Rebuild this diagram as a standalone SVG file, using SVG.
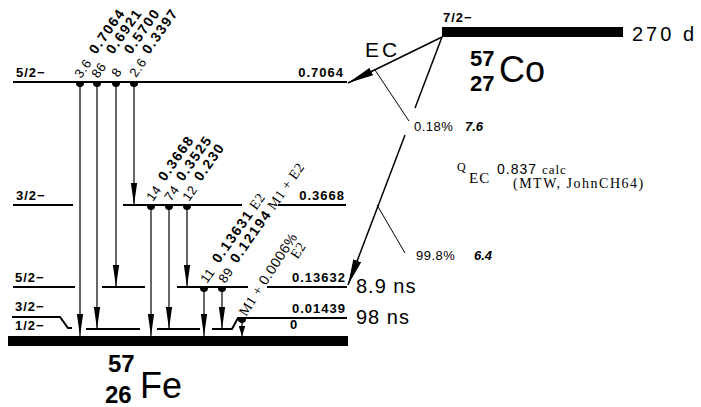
<svg xmlns="http://www.w3.org/2000/svg" width="701" height="407" viewBox="0 0 701 407">
<style>
.lv{stroke:#000;stroke-width:2;fill:none}
.g{stroke:#000;stroke-width:1.2;fill:none;marker-end:url(#ah)}
.sp{font-family:"Liberation Sans",Arial,sans-serif;font-weight:bold;font-size:13px;letter-spacing:1px}
.en{font-family:"Liberation Sans",Arial,sans-serif;font-weight:bold;font-size:14px;letter-spacing:1.5px}
.it{font-family:"Liberation Sans",Arial,sans-serif;font-size:13px;letter-spacing:0.5px}
.sr{font-family:"Liberation Serif","Times New Roman",serif;font-size:14px;font-weight:normal;letter-spacing:0.5px}
.big{font-family:"Liberation Sans",Arial,sans-serif;font-size:20px;letter-spacing:2px}
.nb{font-family:"Liberation Sans",Arial,sans-serif;font-weight:bold;font-size:22px}
.el{font-family:"Liberation Sans",Arial,sans-serif;font-size:36px}
.sm{font-family:"Liberation Sans",Arial,sans-serif;font-size:13px}
.iti{font-family:"Liberation Sans",Arial,sans-serif;font-size:13px;font-style:italic;font-weight:bold}
</style>
<defs>
<marker id="ah" markerUnits="userSpaceOnUse" markerWidth="22" markerHeight="8" refX="21" refY="3" orient="auto" viewBox="0 0 21 6"><path d="M0,0 L21,3 L0,6 Z" fill="#000"/></marker>
<marker id="ahs" markerUnits="userSpaceOnUse" markerWidth="10" markerHeight="7" refX="9" refY="3" orient="auto" viewBox="0 0 9 6"><path d="M0,0 L9,3 L0,6 Z" fill="#000"/></marker>
<marker id="ahe" markerUnits="userSpaceOnUse" markerWidth="26" markerHeight="9" refX="25" refY="4" orient="auto" viewBox="0 0 25 8"><path d="M0,0 L25,4 L0,8 Z" fill="#000"/></marker>
<path id="dot" d="M-4,0 A4,4 0 0 0 4,0 Z" fill="#000"/>
</defs>

<g id="parent-co57">
<rect x="442" y="27" width="181" height="10" fill="#000"/>
<text class="sp" x="443" y="22">7/2−</text>
<text class="big" x="632" y="41" style="letter-spacing:3px">270 d</text>
<text class="nb" x="470" y="66">57</text>
<text class="nb" x="470" y="91">27</text>
<text class="el" x="499" y="82">Co</text>
</g>

<g id="level-0.7064">
<line class="lv" x1="13" y1="82" x2="347" y2="82"/>
<text class="sp" x="16" y="77">5/2−</text>
<text class="sp" x="344" y="77" text-anchor="end">0.7064</text>
</g>

<g id="level-0.3668">
<path class="lv" d="M13,205H73M123,205H242M278,205H346"/>
<text class="sp" x="16" y="200">3/2−</text>
<text class="sp" x="345" y="200" text-anchor="end">0.3668</text>
</g>

<g id="level-0.13632">
<path class="lv" d="M13,287H75M102,287H145M177,287H248M267,287H347"/>
<text class="sp" x="15" y="282">5/2−</text>
<text class="sp" x="346" y="282" text-anchor="end">0.13632</text>
<text class="big" x="356" y="293" style="letter-spacing:1px">8.9 ns</text>
</g>

<g id="level-0.01439">
<path class="lv" d="M12,317H60L68,328H72M86,329H140M157,329H200M212,329H232L238,318H347"/>
<text class="sp" x="15" y="311">3/2−</text>
<text class="sp" x="346" y="313" text-anchor="end">0.01439</text>
<text class="big" x="356" y="324" style="letter-spacing:1px">98 ns</text>
</g>

<g id="level-0">
<rect x="8" y="336" width="340" height="10" fill="#000"/>
<text class="sp" x="15" y="330">1/2−</text>
<text class="sp" x="290" y="329">0</text>
<text class="nb" x="108" y="372" style="font-size:24px">57</text>
<text class="nb" x="105" y="403" style="font-size:24px">26</text>
<text class="el" x="140" y="398">Fe</text>
</g>

<g id="decay-branches">
<line x1="442" y1="37" x2="348" y2="83" stroke="#000" stroke-width="1.5" marker-end="url(#ahe)"/>
<text class="big" x="365" y="57" style="font-size:21px;letter-spacing:3px">EC</text>
<line x1="442" y1="37" x2="415" y2="108" stroke="#000" stroke-width="1.5"/>
<line x1="405" y1="135" x2="348" y2="285" stroke="#000" stroke-width="1.5" marker-end="url(#ahe)"/>
<line x1="375" y1="70" x2="409" y2="121" stroke="#000" stroke-width="1"/>
<line x1="377" y1="205" x2="405" y2="253" stroke="#000" stroke-width="1"/>
<text class="sm" x="414" y="131" style="letter-spacing:0.5px">0.18%</text>
<text class="iti" x="465" y="131">7.6</text>
<text class="sm" x="416" y="260" style="letter-spacing:0.5px">99.8%</text>
<text class="iti" x="474" y="260">6.4</text>
<text class="sr" x="457" y="171" style="font-size:12px">Q</text>
<text class="sr" x="469" y="183" style="font-size:15px;letter-spacing:1px">EC</text>
<text class="sm" x="497" y="174" style="font-size:14px;letter-spacing:1px">0.837 <tspan class="sr" style="font-size:13px;letter-spacing:1px">calc</tspan></text>
<text class="sr" x="513" y="188" style="font-size:14px;letter-spacing:1.5px">(MTW, JohnCH64)</text>
</g>

<g id="gammas">
<use href="#dot" x="80" y="83"/><line class="g" x1="80" y1="85" x2="80" y2="336"/>
<use href="#dot" x="97" y="83"/><line class="g" x1="97" y1="85" x2="97" y2="329"/>
<use href="#dot" x="116" y="83"/><line class="g" x1="116" y1="85" x2="116" y2="287"/>
<use href="#dot" x="134" y="83"/><line class="g" x1="134" y1="85" x2="134" y2="205"/>
<use href="#dot" x="151" y="206"/><line class="g" x1="151" y1="208" x2="151" y2="336"/>
<use href="#dot" x="169" y="206"/><line class="g" x1="169" y1="208" x2="169" y2="329"/>
<use href="#dot" x="187" y="206"/><line class="g" x1="187" y1="208" x2="187" y2="287"/>
<use href="#dot" x="204" y="288"/><line class="g" x1="204" y1="290" x2="204" y2="336"/>
<use href="#dot" x="222" y="288"/><line class="g" x1="222" y1="290" x2="222" y2="329"/>
<use href="#dot" x="242" y="319"/><line x1="242" y1="321" x2="242" y2="336" stroke="#000" stroke-width="1.2" marker-end="url(#ahs)"/>
</g>

<g id="gamma-labels">
<text class="it" transform="translate(81,79) rotate(-55)">3.6</text>
<text class="en" transform="translate(96,55) rotate(-55)">0.7064</text>
<text class="it" transform="translate(98,79) rotate(-55)">86</text>
<text class="en" transform="translate(113,55) rotate(-55)">0.6921</text>
<text class="it" transform="translate(118,78) rotate(-55)">8</text>
<text class="en" transform="translate(131,55) rotate(-55)">0.5700</text>
<text class="it" transform="translate(136,78) rotate(-55)">2.6</text>
<text class="en" transform="translate(149,55) rotate(-55)">0.3397</text>

<text class="it" transform="translate(153,202) rotate(-55)">14</text>
<text class="en" transform="translate(165,182) rotate(-55)">0.3668</text>
<text class="it" transform="translate(171,202) rotate(-55)">74</text>
<text class="en" transform="translate(183,182) rotate(-55)">0.3525</text>
<text class="it" transform="translate(189,202) rotate(-55)">12</text>
<text class="en" transform="translate(201,182) rotate(-55)">0.230</text>

<text class="it" transform="translate(207,284) rotate(-55)">11</text>
<text class="en" transform="translate(219,264) rotate(-55)">0.13631<tspan class="sr"> E2</tspan></text>
<text class="it" transform="translate(225,284) rotate(-55)">89</text>
<text class="en" transform="translate(237,264) rotate(-55)">0.12194<tspan class="sr"> M1 + E2</tspan></text>

<g transform="translate(246,317) rotate(-57)">
<text class="sr">M1 + <tspan class="sm" style="font-size:14px">0.0006%</tspan></text>
<text class="sr" x="76" y="12">E2</text>
</g>
</g>
</svg>
